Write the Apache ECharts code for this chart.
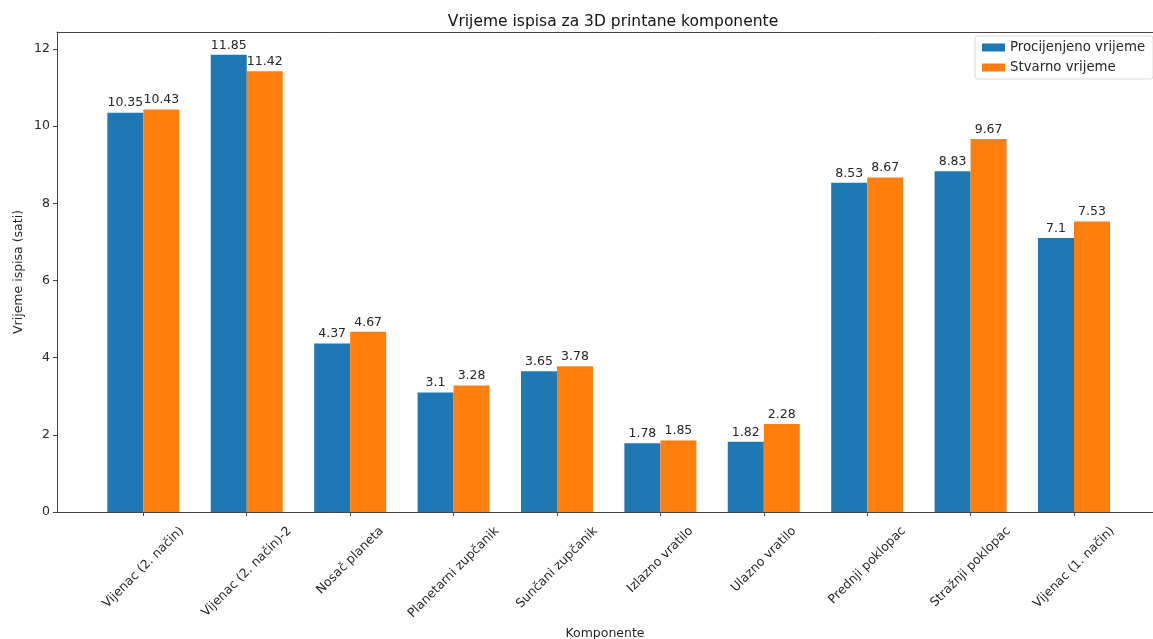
<!DOCTYPE html>
<html>
<head>
<meta charset="utf-8">
<script src="https://cdn.jsdelivr.net/npm/echarts@6/dist/echarts.min.js"></script>
<style>
html,body{margin:0;padding:0;background:#fff;}
#chart{width:1153px;height:639px;}
</style>
</head>
<body>
<div id="chart"></div>
<script>
const categories = ["Vijenac (2. način)", "Vijenac (2. način)-2", "Nosač planeta", "Planetarni zupčanik", "Sunčani zupčanik", "Izlazno vratilo", "Ulazno vratilo", "Prednji poklopac", "Stražnji poklopac", "Vijenac (1. način)"];
const procijenjeno = [10.35, 11.85, 4.37, 3.1, 3.65, 1.78, 1.82, 8.53, 8.83, 7.1];
const stvarno = [10.43, 11.42, 4.67, 3.28, 3.78, 1.85, 2.28, 8.67, 9.67, 7.53];
const yTicks = [0, 2, 4, 6, 8, 10, 12];

const positions = categories.map((c, i) => i);
const FONT = 'DejaVu Sans';
const TXT = '#262626';
const LFS = 12.5;

// Emulate matplotlib's rotated label placement (bbox top fixed below the axis)
const ctx = document.createElement('canvas').getContext('2d');
ctx.font = LFS + 'px "' + FONT + '"';
const rich = {};
categories.forEach((c, i) => {
  const L = ctx.measureText(c).width;
  const d = 0.354 * (L + 14);
  const p = 1.414 * d;
  rich['r' + i] = {fontFamily: FONT, fontSize: LFS, color: TXT, padding: [p, p, 0, 0]};
});

const chart = echarts.init(document.getElementById('chart'), null, {renderer: 'canvas'});
const lab = {
  show: true, position: 'top', distance: 3,
  fontFamily: FONT, fontSize: 12.5, color: TXT,
  formatter: p => String(p.value[1])
};
chart.setOption({
  animation: false,
  backgroundColor: '#fff',
  title: {
    text: 'Vrijeme ispisa za 3D printane komponente',
    left: 608, top: 9, textAlign: 'center',
    textStyle: {fontFamily: FONT, fontSize: 15.5, fontWeight: 'normal', color: '#111'}
  },
  legend: {
    orient: 'vertical', left: 975, top: 36,
    padding: [5, 8, 5, 7], itemGap: 7,
    itemWidth: 23, itemHeight: 8, icon: 'rect',
    backgroundColor: '#fff', borderColor: '#d8d8d8', borderWidth: 1, borderRadius: 3,
    textStyle: {fontFamily: FONT, fontSize: 13.3, color: TXT}
  },
  grid: {left: 57, right: 0, top: 32, bottom: 127, outerBoundsMode: 'none', containLabel: false},
  xAxis: [{
    type: 'value', min: -0.835, max: 9.764,
    name: 'Komponente', nameLocation: 'middle', nameGap: 115, nameMoveOverlap: false,
    nameTextStyle: {fontFamily: FONT, fontSize: 12.5, color: TXT},
    splitLine: {show: false},
    axisLine: {show: true, onZero: false, lineStyle: {color: '#444', width: 1}},
    axisTick: {show: true, length: 4, lineStyle: {color: '#444'}, customValues: positions},
    axisLabel: {
      customValues: positions, rotate: 45, align: 'center', verticalAlign: 'middle',
      margin: 12, fontFamily: FONT, fontSize: LFS, color: TXT, rich: rich,
      formatter: v => { const i = Math.round(v); return '{r' + i + '|' + categories[i] + '}'; }
    }
  }, {
    type: 'value', min: -0.835, max: 9.764, position: 'top',
    splitLine: {show: false}, axisTick: {show: false}, axisLabel: {show: false},
    axisLine: {show: true, onZero: false, lineStyle: {color: '#444', width: 1}}
  }],
  yAxis: {
    type: 'value', min: 0, max: 12.44,
    name: 'Vrijeme ispisa (sati)', nameLocation: 'middle', nameGap: 32, nameMoveOverlap: false,
    nameTextStyle: {fontFamily: FONT, fontSize: 12.5, color: TXT},
    splitLine: {show: false},
    axisLine: {show: true, onZero: false, lineStyle: {color: '#444', width: 1}},
    axisTick: {show: true, length: 4, lineStyle: {color: '#444'}, customValues: yTicks},
    axisLabel: {customValues: yTicks, margin: 7, fontFamily: FONT, fontSize: 12.5, color: TXT}
  },
  series: [{
    name: 'Procijenjeno vrijeme', type: 'bar', xAxisIndex: 0,
    barWidth: 36, barGap: '0%',
    itemStyle: {color: '#1f77b4'},
    label: lab,
    data: positions.map(i => [i, procijenjeno[i]])
  }, {
    name: 'Stvarno vrijeme', type: 'bar', xAxisIndex: 0,
    barWidth: 36, barGap: '0%',
    itemStyle: {color: '#ff7f0e'},
    label: lab,
    data: positions.map(i => [i, stvarno[i]])
  }]
});
</script>
</body>
</html>
